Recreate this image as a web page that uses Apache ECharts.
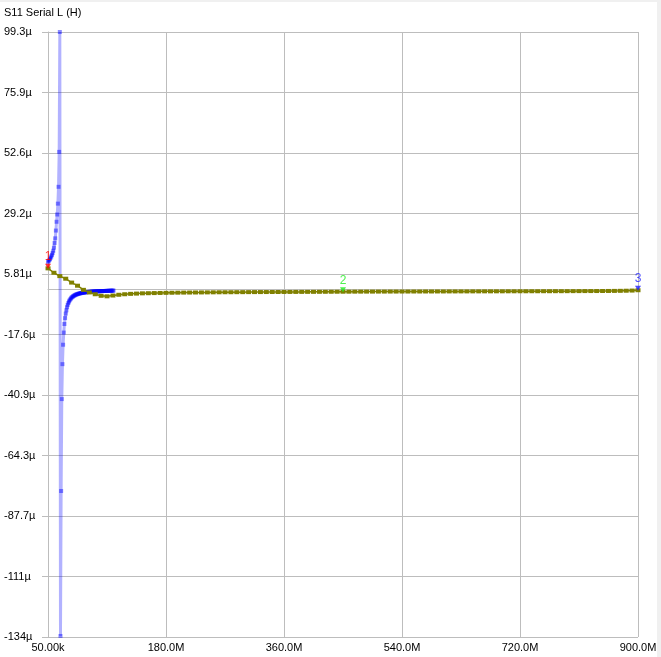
<!DOCTYPE html>
<html>
<head>
<meta charset="utf-8">
<script src="https://cdn.jsdelivr.net/npm/echarts@6/dist/echarts.min.js"></script>
<style>
  html, body { margin: 0; padding: 0; background: #f0f0f0; width: 661px; height: 657px; overflow: hidden; }
  #chart { position: absolute; left: 0; top: 2px; width: 657px; height: 655px; background: #ffffff; }
</style>
</head>
<body>
<div id="chart"></div>
<script>
// ---- Data (values in µH, frequencies in MHz) ----
const titleText = 'S11 Serial L (H)';

// Trace A (olive): sweep 50 kHz .. 900 MHz, 101 points
const oliveStart = 0.05, oliveStop = 900;
const oliveValues = [
  8.0, 6.3, 5.0, 4.0, 2.5, 1.3, -0.3, -1.3, -2.0, -2.6,
  -2.8, -2.5, -2.2, -2.0, -1.85, -1.75, -1.65, -1.6, -1.55, -1.5,
  -1.46, -1.42, -1.39, -1.36, -1.34, -1.32, -1.3, -1.28, -1.26, -1.24,
  -1.23, -1.22, -1.2, -1.19, -1.18, -1.17, -1.16, -1.15, -1.14, -1.13,
  -1.12, -1.11, -1.1, -1.09, -1.08, -1.07, -1.06, -1.05, -1.04, -1.03,
  -1.02, -1.01, -1.0, -0.99, -0.98, -0.98, -0.97, -0.97, -0.96, -0.96,
  -0.95, -0.95, -0.94, -0.94, -0.93, -0.93, -0.92, -0.92, -0.91, -0.91,
  -0.9, -0.9, -0.89, -0.89, -0.88, -0.88, -0.87, -0.87, -0.86, -0.86,
  -0.85, -0.85, -0.84, -0.84, -0.83, -0.83, -0.82, -0.82, -0.81, -0.8,
  -0.79, -0.78, -0.77, -0.76, -0.75, -0.73, -0.71, -0.68, -0.64, -0.58,
  -0.45
];

// Trace B (blue): sweep 50 kHz .. 100 MHz, 101 points
const blueStart = 0.05, blueStop = 100;
const blueValues = [
  10.4, 10.8, 11.2, 11.6, 12.1, 12.6, 13.2, 13.9, 14.8, 16.0,
  17.8, 19.6, 22.6, 26.0, 28.8, 33.0, 39.5, 53.0, 99.3, -134,
  -78, -42.5, -29, -21.5, -16.8, -13.5, -11.2, -9.5, -8.2, -7.0,
  -6.1, -5.4, -4.8, -4.35, -3.95, -3.6, -3.3, -3.05, -2.85, -2.67,
  -2.5, -2.36, -2.23, -2.12, -2.02, -1.93, -1.85, -1.77, -1.7, -1.64,
  -1.58, -1.52, -1.47, -1.42, -1.38, -1.34, -1.3, -1.26, -1.23, -1.2,
  -1.17, -1.14, -1.11, -1.09, -1.06, -1.04, -1.02, -1.0, -0.98, -0.96,
  -0.94, -0.92, -0.91, -0.89, -0.88, -0.86, -0.85, -0.84, -0.82, -0.81,
  -0.8, -0.79, -0.78, -0.77, -0.76, -0.75, -0.74, -0.73, -0.72, -0.71,
  -0.7, -0.69, -0.68, -0.67, -0.66, -0.65, -0.64, -0.63, -0.62, -0.61,
  -0.6
];

// Markers: index into the olive trace
const markerNames = ['1', '2', '3'];
const markerIndex = [0, 50, 100];
const markerColors = ['#ff0000', '#22ee22', '#2020ff'];

// Axis tick labels
const xTickLabels = ['50.00k', '180.0M', '360.0M', '540.0M', '720.0M', '900.0M'];
const yTickLabels = ['-134\u00b5', '-111\u00b5', '-87.7\u00b5', '-64.3\u00b5', '-40.9\u00b5', '-17.6\u00b5', '5.81\u00b5', '29.2\u00b5', '52.6\u00b5', '75.9\u00b5', '99.3\u00b5'];
const xMin = 0, xMax = 900, xInterval = 180;
const yMin = -134.4, yMax = 99.3;
const yInterval = (yMax - yMin) / 10;

// ---- Build ----
function sweep(start, stop, n) {
  const out = [];
  for (let i = 0; i < n; i++) out.push(start + i * (stop - start) / (n - 1));
  return out;
}
const oliveFreq = sweep(oliveStart, oliveStop, oliveValues.length);
const blueFreq = sweep(blueStart, blueStop, blueValues.length);
const oliveData = oliveValues.map((v, i) => [oliveFreq[i], v]);
const blueData = blueValues.map((v, i) => [blueFreq[i], v]);
const markerData = markerIndex.map((idx, k) => ({
  value: [oliveFreq[idx], oliveValues[idx]],
  name: markerNames[k],
  itemStyle: { color: markerColors[k] },
  label: { color: markerColors[k] }
}));

const font = 'Liberation Sans, Arial, sans-serif';
const gridColor = '#bdbdbd';

const chart = echarts.init(document.getElementById('chart'), null, { renderer: 'canvas' });
chart.setOption({
  animation: false,
  backgroundColor: 'transparent',
  title: {
    text: titleText, left: 4, top: 5, padding: 0,
    textStyle: { fontFamily: font, fontSize: 11, fontWeight: 'normal', color: '#000' }
  },
  grid: { left: 48, right: 19, top: 30, bottom: 20, containLabel: false, outerBoundsMode: 'none' },
  xAxis: {
    type: 'value', min: xMin, max: xMax, interval: xInterval,
    axisLine: { show: true, lineStyle: { color: gridColor, width: 1 } },
    axisTick: { show: true, length: 5, lineStyle: { color: gridColor } },
    splitLine: { show: true, lineStyle: { color: gridColor, width: 1 } },
    axisLabel: {
      fontFamily: font, fontSize: 11, color: '#000', margin: 5,
      formatter: v => xTickLabels[Math.round((v - xMin) / xInterval)] || ''
    }
  },
  yAxis: {
    type: 'value', min: yMin, max: yMax, interval: yInterval,
    axisLine: { show: true, lineStyle: { color: gridColor, width: 1 } },
    axisTick: { show: true, length: 6, lineStyle: { color: gridColor } },
    splitLine: { show: true, lineStyle: { color: gridColor, width: 1 } },
    axisLabel: {
      fontFamily: font, fontSize: 11, color: '#000', margin: 44, align: 'left',
      formatter: v => yTickLabels[Math.round((v - yMin) / yInterval)] || ''
    }
  },
  series: [
    {
      name: 'blue', type: 'line', data: blueData, z: 2,
      showAllSymbol: true, symbol: 'rect', symbolSize: 4,
      lineStyle: { color: 'rgba(0,0,255,0.3)', width: 3 },
      itemStyle: { color: 'rgba(0,0,255,0.45)', borderWidth: 0 },
      emphasis: { disabled: true }
    },
    {
      name: 'olive', type: 'line', data: oliveData, z: 3,
      showAllSymbol: true, symbol: 'rect', symbolSize: [5, 4],
      lineStyle: { color: '#808000', width: 1.5 },
      itemStyle: { color: '#808000', borderWidth: 0 },
      emphasis: { disabled: true }
    },
    {
      name: 'markers', type: 'scatter', data: markerData, z: 5,
      symbol: 'triangle', symbolRotate: 180, symbolSize: [6, 5], symbolOffset: [0, -2],
      label: {
        show: true, position: 'top', distance: 1,
        formatter: p => p.name, fontFamily: font, fontSize: 12
      },
      emphasis: { disabled: true }
    }
  ]
});
</script>
</body>
</html>
